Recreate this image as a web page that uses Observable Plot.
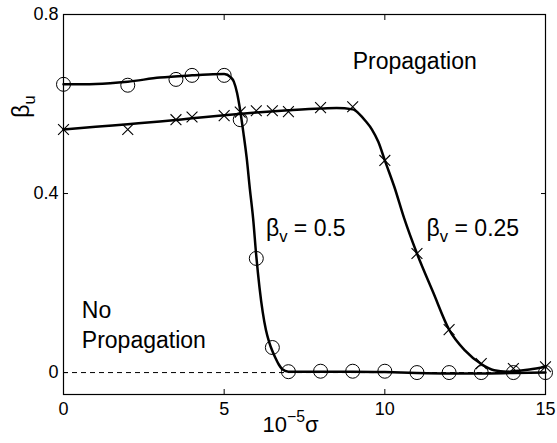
<!DOCTYPE html>
<html>
<head>
<meta charset="utf-8">
<script src="https://cdn.jsdelivr.net/npm/d3@7"></script>
<script src="https://cdn.jsdelivr.net/npm/@observablehq/plot@0.6"></script>
<style>
  html, body { margin: 0; padding: 0; background: white; }
</style>
</head>
<body>
<div id="chart"></div>
<script>
// ---- data ----
// beta_v = 0.5 (circles): measured points
const circleX = [0, 2, 3.5, 4, 5, 5.5, 6, 6.5, 7, 8, 9, 10, 11, 12, 13, 14, 15];
const circleY = [0.644, 0.642, 0.655, 0.664, 0.664, 0.565, 0.255, 0.056, 0.002, 0.003, 0.003, 0.003, 0.0, 0.0, 0.0, 0.0, 0.0];
// beta_v = 0.5 fitted curve
const circleCurveX = [0, 1, 2, 3, 4, 4.5, 5, 5.2, 5.3, 5.4, 5.5, 5.6, 5.7, 5.8, 5.9, 6.0, 6.1, 6.2, 6.3, 6.4, 6.5, 6.6, 6.7, 6.8, 7.0, 8, 9, 10, 11, 12, 13, 14, 15];
const circleCurveY = [0.644, 0.645, 0.650, 0.659, 0.664, 0.666, 0.667, 0.660, 0.650, 0.625, 0.585, 0.535, 0.480, 0.410, 0.345, 0.260, 0.190, 0.135, 0.095, 0.068, 0.048, 0.032, 0.018, 0.008, 0.002, 0.002, 0.002, 0.001, -0.001, -0.002, -0.002, -0.001, 0.0];

// beta_v = 0.25 (crosses): measured points
const crossX = [0, 2, 3.5, 4, 5, 5.5, 6, 6.5, 7, 8, 9, 10, 11, 12, 13, 14, 15];
const crossY = [0.543, 0.543, 0.565, 0.571, 0.574, 0.582, 0.585, 0.585, 0.583, 0.592, 0.594, 0.474, 0.266, 0.096, 0.020, 0.009, 0.013];
// beta_v = 0.25 fitted curve
const crossCurveX = [0, 1, 2, 3, 4, 5, 6, 7, 8, 8.5, 9, 9.2, 9.4, 9.6, 9.8, 10, 10.3, 10.6, 11, 11.5, 12, 12.5, 13, 13.4, 13.8, 14, 14.5, 15];
const crossCurveY = [0.543, 0.549, 0.555, 0.561, 0.568, 0.575, 0.581, 0.586, 0.590, 0.591, 0.588, 0.578, 0.562, 0.543, 0.515, 0.474, 0.414, 0.345, 0.266, 0.180, 0.096, 0.049, 0.019, 0.005, 0.002, 0.003, 0.007, 0.013];

// axes
const xTicks = [0, 5, 10, 15];
const yTicks = [0, 0.4, 0.8];
const yTickLabels = ["0", "0.4", "0.8"];
const xDomain = [0, 15];
const yDomain = [-0.049, 0.8];

// text
const xLabel = "10^{−5}σ";
const yLabel = "β_{u}";
const annText = ["Propagation", "No\nPropagation", "β_{v} = 0.5", "β_{v} = 0.25"];
const annX = [9.0, 0.57, 6.3, 11.3];
const annY = [0.679, 0.056, 0.306, 0.306];

// ---- build tables ----
const circles = circleX.map((x, i) => ({x, y: circleY[i]}));
const circleCurve = circleCurveX.map((x, i) => ({x, y: circleCurveY[i]}));
const crosses = crossX.map((x, i) => ({x, y: crossY[i]}));
const crossCurve = crossCurveX.map((x, i) => ({x, y: crossCurveY[i]}));
const annotations = annText.map((text, i) => ({text, x: annX[i], y: annY[i]}));

const font = "'Liberation Sans', Arial, Helvetica, sans-serif";

const plot = Plot.plot({
  width: 557,
  height: 443,
  marginLeft: 63,
  marginRight: 12,
  marginTop: 14,
  marginBottom: 49,
  x: {domain: xDomain},
  y: {domain: yDomain},
  style: {fontFamily: font, fontSize: "18px", background: "white", color: "black", overflow: "visible"},
  marks: [
    // tick labels
    Plot.axisX({ticks: xTicks, tickSize: 0, tickPadding: 8, fontSize: 18, label: null}),
    Plot.axisY({ticks: yTicks, tickSize: 0, tickPadding: 5, fontSize: 18, label: null,
      tickFormat: d => yTickLabels[yTicks.indexOf(d)]}),
    // inward ticks on all four sides
    Plot.axisX({ticks: xTicks, tickSize: 5, dy: -5, tickFormat: () => "", label: null}),
    Plot.axisX({anchor: "top", ticks: xTicks, tickSize: 5, dy: 5, tickFormat: () => "", label: null}),
    Plot.axisY({ticks: yTicks, tickSize: 5, dx: 5, tickFormat: () => "", label: null}),
    Plot.axisY({anchor: "right", ticks: yTicks, tickSize: 5, dx: -5, tickFormat: () => "", label: null}),
    // zero line
    Plot.ruleY([0], {stroke: "black", strokeWidth: 1, strokeDasharray: "5,4"}),
    // curves
    Plot.line(circleCurve, {x: "x", y: "y", stroke: "black", strokeWidth: 2.5, curve: "monotone-x"}),
    Plot.line(crossCurve, {x: "x", y: "y", stroke: "black", strokeWidth: 2.5, curve: "monotone-x"}),
    // markers
    Plot.dot(circles, {x: "x", y: "y", r: 7, stroke: "black", strokeWidth: 1, fill: "none"}),
    Plot.dot(crosses, {x: "x", y: "y", symbol: "times", r: 5, stroke: "black", strokeWidth: 1.1}),
    // annotations
    Plot.text(annotations, {x: "x", y: "y", text: "text", textAnchor: "start", lineAnchor: "bottom",
      fontSize: 23, lineHeight: 1.3, fill: "black"}),
    // axis labels
    Plot.text([xLabel], {frameAnchor: "bottom", text: d => d, textAnchor: "start", lineAnchor: "bottom",
      dx: -42, dy: 37, fontSize: 22, fill: "black"}),
    Plot.text([yLabel], {frameAnchor: "top-left", text: d => d, textAnchor: "middle", lineAnchor: "bottom",
      rotate: -90, dx: -35, dy: 92, fontSize: 23, fill: "black"}),
    Plot.frame({stroke: "black", strokeWidth: 1.2})
  ]
});

// turn _{..} and ^{..} into sub/superscript tspans
function richify(svg) {
  const NS = "http://www.w3.org/2000/svg";
  svg.querySelectorAll("text").forEach(t => {
    const s = t.textContent;
    if (!/[_^]\{/.test(s) || t.querySelector("tspan")) return;
    const fs = parseFloat(getComputedStyle(t).fontSize) || 18;
    const parts = s.split(/([_^]\{[^}]*\})/).filter(p => p.length);
    while (t.firstChild) t.removeChild(t.firstChild);
    let cur = 0;
    for (const p of parts) {
      const ts = document.createElementNS(NS, "tspan");
      let target = 0, txt = p, size = fs;
      if (p[0] === "_") { target = 0.28 * fs; txt = p.slice(2, -1); size = fs * 0.72; }
      else if (p[0] === "^") { target = -0.45 * fs; txt = p.slice(2, -1); size = fs * 0.72; }
      ts.setAttribute("dy", (target - cur).toFixed(2));
      ts.setAttribute("font-size", size.toFixed(1));
      cur = target;
      ts.textContent = txt;
      t.appendChild(ts);
    }
  });
}

document.getElementById("chart").appendChild(plot);
richify(plot);
</script>
</body>
</html>
